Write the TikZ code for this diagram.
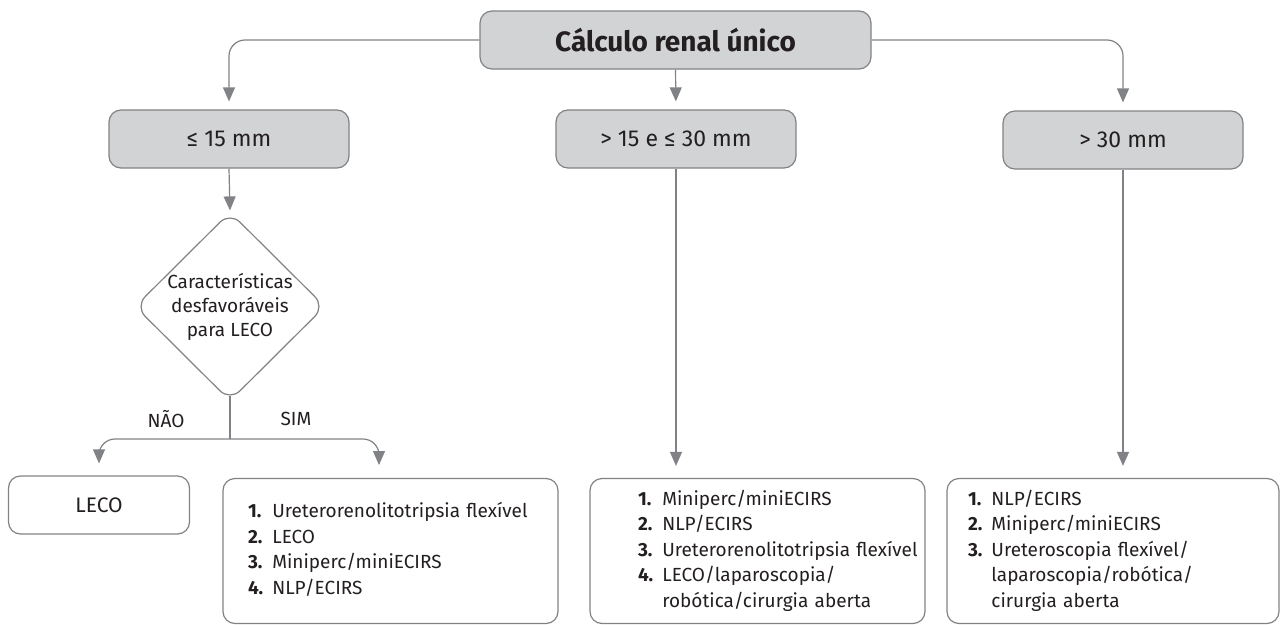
\documentclass[tikz,border=0pt]{standalone}
\usepackage{fontspec}
\setmainfont{Fira Sans}
\usetikzlibrary{arrows.meta, shapes.geometric}
\definecolor{boxgray}{HTML}{D1D3D4}
\definecolor{linegray}{HTML}{808285}
\definecolor{textdark}{HTML}{231F20}

\begin{document}
\begin{tikzpicture}[x=1pt, y=-1pt, line width=1.2pt, text=textdark,
  sizebox/.style={draw=linegray, fill=boxgray, rounded corners=12pt, minimum width=240pt, minimum height=58pt, font=\fontsize{23}{27}\selectfont},
  titlebox/.style={sizebox, minimum width=391pt, font=\fontsize{28}{32}\selectfont\bfseries},
  plainbox/.style={draw=linegray, rounded corners=12pt, minimum width=181pt, minimum height=58pt, font=\fontsize{21}{25}\selectfont},
  listbox/.style={draw=linegray, rounded corners=12pt, minimum height=145pt, inner xsep=0pt, align=left, font=\fontsize{19}{25.5}\selectfont},
  decision/.style={diamond, draw=linegray, rounded corners=14pt, minimum width=190pt, minimum height=189pt, inner sep=-10pt, align=center, font=\fontsize{19}{24}\selectfont},
  branchlabel/.style={font=\fontsize{19}{23}\selectfont},
  link/.style={draw=linegray, rounded corners=16pt},
  arrowlink/.style={link, -{Triangle[width=12pt,length=14pt]}, shorten >=#1}, arrowlink/.default=8pt]

\useasboundingbox (0,0) rectangle (1280,624);

\begin{scope}
\coordinate (split) at (230,439);
\coordinate (simin) at (379,477);

\node[titlebox] (calc) at (675.5,40) {Cálculo renal único};

\node[sizebox] (le15) at (229,139) {≤ 15 mm};
\node[sizebox] (mid) at (676,139) {> 15 e ≤ 30 mm};
\node[sizebox] (gt30) at (1123,140) {> 30 mm};

\node[decision] (dia) at (230,306.5) {Características\\desfavoráveis\\para LECO};

\node[branchlabel] (nao) at (166,419) {NÃO};
\node[branchlabel] (sim) at (296,419) {SIM};

\node[plainbox] (leco) at (99,505) {LECO};

\node[listbox, text width=335pt] (simlist) at (390.5,551) {\noindent\hspace*{25pt}\begin{tabular}{@{}l@{\hspace{9pt}}l@{}}
\textbf{1.} & Ureterorenolitotripsia flexível\\
\textbf{2.} & LECO\\
\textbf{3.} & Miniperc/miniECIRS\\
\textbf{4.} & NLP/ECIRS
\end{tabular}};

\node[listbox, text width=335pt] (midlist) at (757.5,551) {\noindent\hspace*{48pt}\begin{tabular}{@{}l@{\hspace{9pt}}l@{}}
\textbf{1.} & Miniperc/miniECIRS\\
\textbf{2.} & NLP/ECIRS\\
\textbf{3.} & Ureterorenolitotripsia flexível\\
\textbf{4.} & LECO/laparoscopia/\\
 & robótica/cirurgia aberta
\end{tabular}};

\node[listbox, text width=332pt] (gt30list) at (1113,551) {\noindent\hspace*{21pt}\begin{tabular}{@{}l@{\hspace{9pt}}l@{}}
\textbf{1.} & NLP/ECIRS\\
\textbf{2.} & Miniperc/miniECIRS\\
\textbf{3.} & Ureteroscopia flexível/\\
 & laparoscopia/robótica/\\
 & cirurgia aberta
\end{tabular}};

\draw[arrowlink] (calc.west) -| (le15.north);
\draw[arrowlink] (calc.south) -- (mid.north);
\draw[arrowlink] (calc.east) -| (gt30.north);

\draw[arrowlink=1pt] (le15.south) -- (dia.north);
\draw[link, shorten <=-6pt] (dia.south) -- (split);
\draw[arrowlink=12pt] (split) -| (leco.north);
\draw[arrowlink=12pt] (split) -| (simin);

\draw[arrowlink=12pt] (mid.south) -- (mid.south |- midlist.north);
\draw[arrowlink=12pt] (gt30.south) -- (gt30.south |- gt30list.north);
\end{scope}

\end{tikzpicture}
\end{document}
